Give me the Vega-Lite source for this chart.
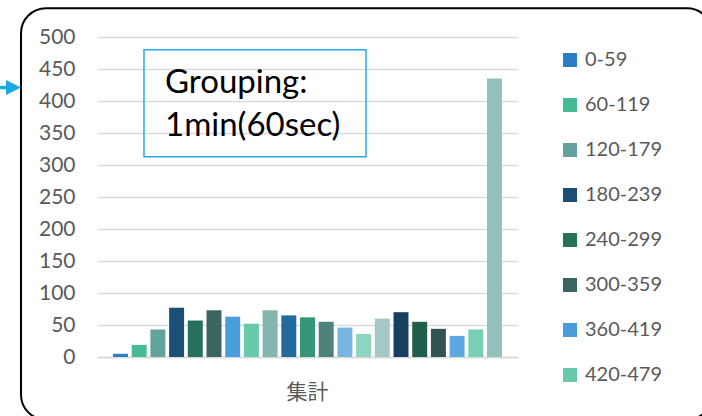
{
  "$schema": "https://vega.github.io/schema/vega-lite/v6.json",
  "autosize": {"type": "none"},
  "width": 421,
  "height": 320,
  "padding": {"left": 97, "top": 37, "right": 184, "bottom": 59},
  "background": "white",
  "config": {
    "view": {"stroke": null},
    "font": "Lato",
    "axisY": {
      "domain": false, "ticks": false, "labelPadding": 22, "labelOverlap": false,
      "labelFont": "Lato", "labelFontSize": 21, "labelColor": "#595959",
      "gridColor": "#D9D9D9", "gridWidth": 1.5
    }
  },
  "layer": [
    {
      "data": {"values": [
        {"cat": "集計", "range": "0-59", "count": 5},
        {"cat": "集計", "range": "60-119", "count": 19},
        {"cat": "集計", "range": "120-179", "count": 43},
        {"cat": "集計", "range": "180-239", "count": 77},
        {"cat": "集計", "range": "240-299", "count": 57},
        {"cat": "集計", "range": "300-359", "count": 73},
        {"cat": "集計", "range": "360-419", "count": 63},
        {"cat": "集計", "range": "420-479", "count": 52},
        {"cat": "集計", "range": "480-539", "count": 73},
        {"cat": "集計", "range": "540-599", "count": 65},
        {"cat": "集計", "range": "600-659", "count": 62},
        {"cat": "集計", "range": "660-719", "count": 55},
        {"cat": "集計", "range": "720-779", "count": 46},
        {"cat": "集計", "range": "780-839", "count": 36},
        {"cat": "集計", "range": "840-899", "count": 60},
        {"cat": "集計", "range": "900-959", "count": 70},
        {"cat": "集計", "range": "960-1019", "count": 55},
        {"cat": "集計", "range": "1020-1079", "count": 44},
        {"cat": "集計", "range": "1080-1139", "count": 33},
        {"cat": "集計", "range": "1140-1199", "count": 43},
        {"cat": "集計", "range": "1200+", "count": 435}
      ]},
      "mark": {"type": "bar"},
      "encoding": {
        "x": {
          "field": "cat", "type": "nominal",
          "scale": {"paddingInner": 0, "paddingOuter": 0.036},
          "axis": {
            "title": null, "ticks": false, "domainColor": "#D9D9D9", "domainWidth": 1.5,
            "labelAngle": 0, "labelFont": "Noto Sans CJK JP", "labelFontSize": 21,
            "labelColor": "#595959", "labelPadding": 24
          }
        },
        "xOffset": {
          "field": "range", "type": "nominal",
          "scale": {
            "paddingInner": 0.2, "paddingOuter": 0.1,
            "domain": ["0-59","60-119","120-179","180-239","240-299","300-359","360-419","420-479","480-539","540-599","600-659","660-719","720-779","780-839","840-899","900-959","960-1019","1020-1079","1080-1139","1140-1199","1200+"]
          }
        },
        "y": {
          "field": "count", "type": "quantitative",
          "scale": {"domain": [0, 500], "nice": false},
          "axis": {"title": null, "values": [0,50,100,150,200,250,300,350,400,450,500]}
        },
        "color": {
          "field": "range", "type": "nominal",
          "scale": {
            "domain": ["0-59","60-119","120-179","180-239","240-299","300-359","360-419","420-479","480-539","540-599","600-659","660-719","720-779","780-839","840-899","900-959","960-1019","1020-1079","1080-1139","1140-1199","1200+"],
            "range": ["#2A7FC4","#45BB96","#64A29D","#1B4F75","#277059","#3A6561","#4A9DDB","#66C9AA","#85B5B1","#206A9E","#37967A","#4E827D","#79B5E3","#8DD5C0","#A4C8C5","#163F61","#205E4B","#315352","#5EA8E2","#79CFB5","#93C0BC"]
          },
          "legend": {
            "title": null, "orient": "none", "legendX": 463, "legendY": 13,
            "values": ["0-59","60-119","120-179","180-239","240-299","300-359","360-419","420-479"],
            "padding": 0, "symbolType": "square", "symbolSize": 196, "symbolStrokeWidth": 0,
            "labelFont": "Lato", "labelFontSize": 20, "labelColor": "#595959", "labelOffset": 5,
            "rowPadding": 25, "labelLimit": 200
          }
        }
      }
    },
    {
      "data": {"values": [{"kind": "border", "x0": -0.1805, "x1": 1.461, "y0": 545, "y1": -98}]},
      "mark": {"type": "rect", "fill": null, "stroke": "black", "strokeWidth": 2, "cornerRadius": 25, "clip": false},
      "encoding": {
        "x": {"field": "x0", "type": "quantitative", "scale": {"domain": [0, 1], "nice": false, "zero": false}, "axis": null},
        "x2": {"field": "x1"},
        "y": {"field": "y0", "type": "quantitative", "axis": {"title": null, "values": [0,50,100,150,200,250,300,350,400,450,500]}},
        "y2": {"field": "y1"}
      }
    },
    {
      "data": {"values": [{"kind": "box", "x0": 0.1116, "x1": 0.639, "y0": 480, "y1": 313}]},
      "mark": {"type": "rect", "fill": null, "stroke": "#29ABE2", "strokeWidth": 1.5, "clip": false},
      "encoding": {
        "x": {"field": "x0", "type": "quantitative", "scale": {"domain": [0, 1], "nice": false, "zero": false}, "axis": null},
        "x2": {"field": "x1"},
        "y": {"field": "y0", "type": "quantitative", "axis": {"title": null, "values": [0,50,100,150,200,250,300,350,400,450,500]}},
        "y2": {"field": "y1"}
      }
    },
    {
      "data": {"values": [
        {"label": "Grouping:", "xf": 0.1615, "yv": 413},
        {"label": "1min(60sec)", "xf": 0.1615, "yv": 345}
      ]},
      "mark": {"type": "text", "align": "left", "baseline": "alphabetic", "font": "Lato", "fontSize": 33, "color": "black", "clip": false},
      "encoding": {
        "x": {"field": "xf", "type": "quantitative", "scale": {"domain": [0, 1], "nice": false, "zero": false}, "axis": null},
        "y": {"field": "yv", "type": "quantitative", "axis": {"title": null, "values": [0,50,100,150,200,250,300,350,400,450,500]}},
        "text": {"field": "label"}
      }
    },
    {
      "data": {"values": [{"a": -0.2304, "b": -0.19, "yv": 421}]},
      "mark": {"type": "rule", "color": "#1BA9E1", "strokeWidth": 3.5, "clip": false},
      "encoding": {
        "x": {"field": "a", "type": "quantitative", "scale": {"domain": [0, 1], "nice": false, "zero": false}, "axis": null},
        "x2": {"field": "b"},
        "y": {"field": "yv", "type": "quantitative", "axis": {"title": null, "values": [0,50,100,150,200,250,300,350,400,450,500]}}
      }
    },
    {
      "data": {"values": [{"a": -0.1983, "yv": 421}]},
      "mark": {"type": "point", "shape": "M-1,-1L1,0L-1,1Z", "size": 225, "filled": true, "color": "#1BA9E1", "opacity": 1, "clip": false},
      "encoding": {
        "x": {"field": "a", "type": "quantitative", "scale": {"domain": [0, 1], "nice": false, "zero": false}, "axis": null},
        "y": {"field": "yv", "type": "quantitative", "axis": {"title": null, "values": [0,50,100,150,200,250,300,350,400,450,500]}}
      }
    }
  ],
  "resolve": {"scale": {"x": "independent"}}
}
